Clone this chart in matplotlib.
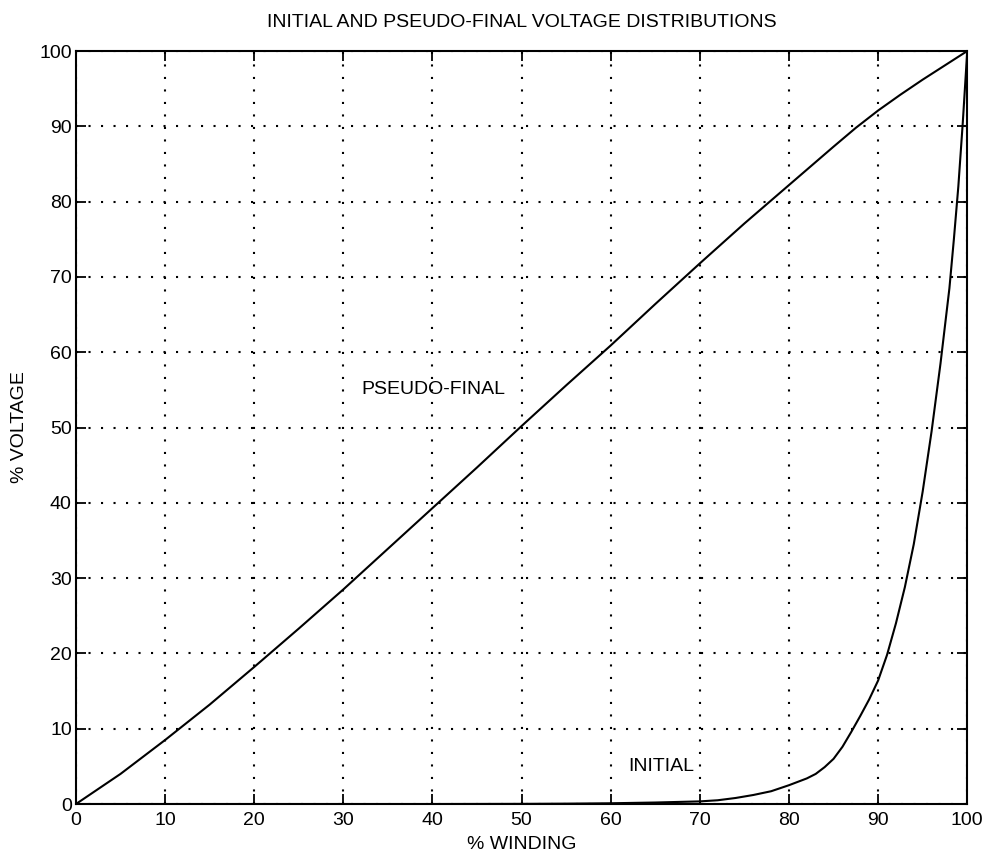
import numpy as np
import matplotlib
matplotlib.use("Agg")
import matplotlib.pyplot as plt

plt.rcParams['font.family'] = ['Liberation Sans', 'DejaVu Sans']

# pseudo-final distribution (% winding -> % voltage)
final_x = [0, 5, 10, 15, 20, 25, 30, 35, 40, 45, 50, 55, 60, 65, 70, 75, 80, 85,
           87.5, 90, 92.5, 95, 97.5, 100]
final_y = [0, 4.0, 8.5, 13.2, 18.2, 23.3, 28.5, 33.9, 39.3, 44.7, 50.2, 55.6, 60.9, 66.4,
           71.8, 77.1, 82.2, 87.3, 89.8, 92.1, 94.2, 96.2, 98.1, 100]

# initial distribution
initial_x = [0, 10, 20, 30, 40, 50, 55, 60, 65, 70, 72, 74, 76, 78, 80, 82, 83, 84, 85, 86,
             87, 88, 89, 90, 91, 92, 93, 94, 95, 96, 97, 98, 98.5, 99, 99.5, 100]
initial_y = [0, 0, 0, 0, 0, 0.02, 0.05, 0.1, 0.2, 0.35, 0.5, 0.8, 1.2, 1.7, 2.5, 3.4, 4.0,
             4.9, 6.0, 7.6, 9.6, 11.7, 13.9, 16.4, 19.8, 24.0, 28.8, 34.5, 41.5, 49.5,
             58.5, 68.5, 75, 82, 90.5, 100]

ticks = [0, 10, 20, 30, 40, 50, 60, 70, 80, 90, 100]

fig = plt.figure(figsize=(9.89, 8.59), dpi=100)
ax = fig.add_axes([0.0768, 0.064, 0.9012, 0.8766])

ax.plot(final_x, final_y, color='black', linewidth=1.5)
ax.plot(initial_x, initial_y, color='black', linewidth=1.5)

ax.set_xlim(0, 100)
ax.set_ylim(0, 100)
ax.set_xticks(ticks)
ax.set_yticks(ticks)
ax.grid(True, color='black', linestyle=(0, (1, 5)), linewidth=1.5)
ax.tick_params(direction='in', length=7, width=1.3, top=True, right=True,
               labelsize=14)
ax.tick_params(axis='x', pad=6)
ax.tick_params(axis='y', pad=3)
for s in ax.spines.values():
    s.set_linewidth(1.5)

ax.set_title('INITIAL AND PSEUDO-FINAL VOLTAGE DISTRIBUTIONS', fontsize=14, pad=17)
ax.set_xlabel('% WINDING', fontsize=14, labelpad=5)
ax.set_ylabel('% VOLTAGE', fontsize=14, labelpad=8)

ax.text(32, 55, 'PSEUDO-FINAL', fontsize=14, va='center', ha='left')
ax.text(62, 5, 'INITIAL', fontsize=14, va='center', ha='left')

fig.savefig('out.png', dpi=100)
